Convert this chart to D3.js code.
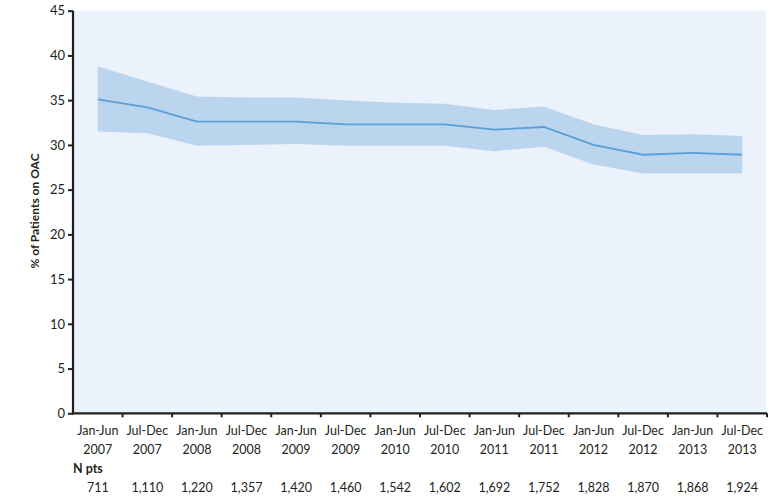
<!DOCTYPE html>
<html>
<head>
<meta charset="utf-8">
<script src="https://cdn.jsdelivr.net/npm/d3@7"></script>
<style>
  html, body { margin: 0; padding: 0; background: #ffffff; }
  svg { display: block; font-family: Lato, "Open Sans", sans-serif; }
</style>
</head>
<body>
<svg id="chart" width="769" height="496"></svg>
<script>
// Half-year periods and OAC use estimates with 95% confidence band
const periods = ["Jan-Jun 2007", "Jul-Dec 2007", "Jan-Jun 2008", "Jul-Dec 2008", "Jan-Jun 2009",
  "Jul-Dec 2009", "Jan-Jun 2010", "Jul-Dec 2010", "Jan-Jun 2011", "Jul-Dec 2011",
  "Jan-Jun 2012", "Jul-Dec 2012", "Jan-Jun 2013", "Jul-Dec 2013"];
const pctOAC = [35.1, 34.2, 32.6, 32.6, 32.6, 32.3, 32.3, 32.3, 31.7, 32.0, 30.0, 28.9, 29.1, 28.9];
const upperCI = [38.8, 37.1, 35.4, 35.3, 35.3, 35.0, 34.7, 34.6, 33.9, 34.3, 32.3, 31.1, 31.2, 31.0];
const lowerCI = [31.5, 31.3, 29.9, 30.0, 30.1, 29.9, 29.9, 29.9, 29.3, 29.8, 27.8, 26.8, 26.8, 26.8];
const nPts = ["711", "1,110", "1,220", "1,357", "1,420", "1,460", "1,542", "1,602",
  "1,692", "1,752", "1,828", "1,870", "1,868", "1,924"];
const yTicks = [0, 5, 10, 15, 20, 25, 30, 35, 40, 45];

const svg = d3.select("#chart");
const plotLeft = 73, plotRight = 767, plotTop = 10.7, plotBottom = 413.3;
const ink = "#231f20";

const x = d3.scaleBand().domain(periods).range([plotLeft, plotRight]).padding(0);
const y = d3.scaleLinear().domain([0, 45]).range([plotBottom, plotTop]);
const cx = d => x(d) + x.bandwidth() / 2;

// plot background
svg.append("rect")
  .attr("x", plotLeft + 1).attr("y", y(45))
  .attr("width", 766 - plotLeft - 1).attr("height", plotBottom - y(45))
  .attr("fill", "#ebf2fb");

// confidence band
svg.append("path")
  .datum(periods)
  .attr("fill", "#bcd5ee")
  .attr("d", d3.area()
    .x(d => cx(d))
    .y0((d, i) => y(lowerCI[i]))
    .y1((d, i) => y(upperCI[i])));

// estimate line
svg.append("path")
  .datum(periods)
  .attr("fill", "none")
  .attr("stroke", "#5a9fd8")
  .attr("stroke-width", 1.8)
  .attr("d", d3.line()
    .x(d => cx(d))
    .y((d, i) => y(pctOAC[i])));

// y axis
const yAxis = svg.append("g")
  .attr("transform", `translate(${plotLeft},0)`)
  .call(d3.axisLeft(y).tickValues(yTicks).tickSize(5).tickPadding(3));
yAxis.select(".domain").attr("stroke", ink).attr("stroke-width", 2.2)
  .attr("d", `M0,${y(45)}V${plotBottom + 1}`);
yAxis.selectAll(".tick line").attr("stroke", ink).attr("stroke-width", 2);
yAxis.selectAll(".tick text").attr("fill", ink).attr("font-size", 13)
  .attr("font-family", "Lato, sans-serif");

// x axis with boundary ticks between periods
const xAxisG = svg.append("g").attr("transform", `translate(0,${plotBottom})`);
xAxisG.append("line")
  .attr("x1", plotLeft - 1).attr("x2", plotRight).attr("y1", 0).attr("y2", 0)
  .attr("stroke", ink).attr("stroke-width", 2.2);
const edges = periods.map(p => x(p)).concat([plotRight]);
xAxisG.selectAll("line.edge").data(edges.slice(1)).join("line")
  .attr("class", "edge")
  .attr("x1", d => d).attr("x2", d => d)
  .attr("y1", 0).attr("y2", 4)
  .attr("stroke", ink).attr("stroke-width", 2);

// period labels
const lab = svg.append("g").attr("fill", ink).attr("font-size", 12.5).attr("text-anchor", "middle");
lab.selectAll("text.half").data(periods).join("text")
  .attr("class", "half")
  .attr("x", d => cx(d)).attr("y", 435)
  .text(d => d.split(" ")[0]);
lab.selectAll("text.year").data(periods).join("text")
  .attr("class", "year")
  .attr("x", d => cx(d)).attr("y", 454)
  .text(d => d.split(" ")[1]);

// patient counts
svg.append("text")
  .attr("x", plotLeft).attr("y", 472.5)
  .attr("fill", ink).attr("font-size", 12.5).attr("font-weight", "bold")
  .text("N pts");
lab.selectAll("text.n").data(periods).join("text")
  .attr("class", "n")
  .attr("x", d => cx(d)).attr("y", 491.5)
  .text((d, i) => nPts[i]);

// y axis title
svg.append("text")
  .attr("transform", `translate(39,211) rotate(-90)`)
  .attr("text-anchor", "middle")
  .attr("fill", ink).attr("font-size", 12).attr("font-weight", "bold")
  .text("% of Patients on OAC");
</script>
</body>
</html>
